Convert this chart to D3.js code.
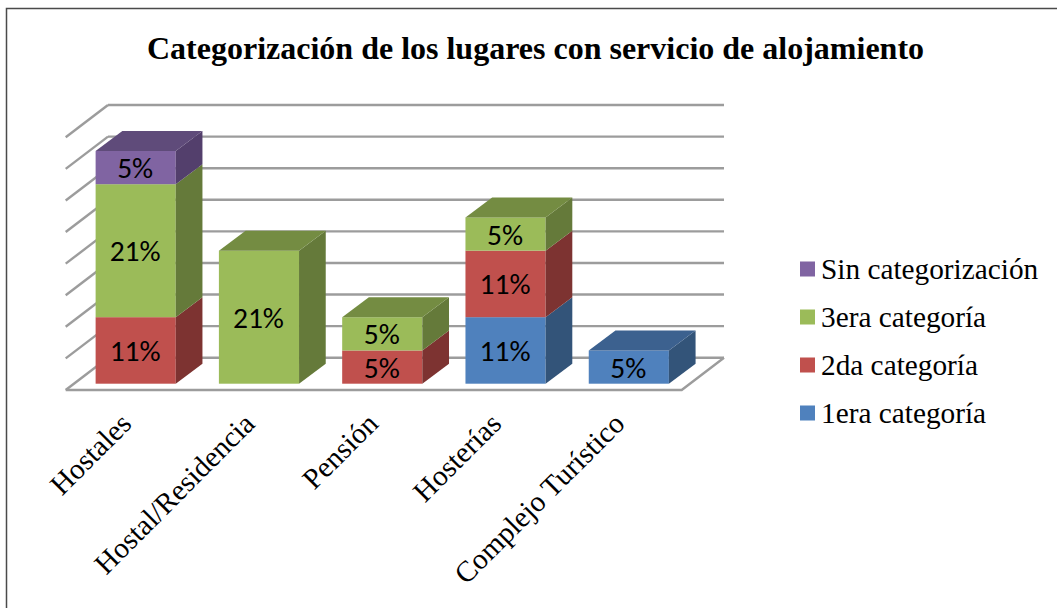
<!DOCTYPE html>
<html><head><meta charset="utf-8">
<style>html,body{margin:0;padding:0;background:#fff}svg{display:block}</style>
<script src="https://cdn.jsdelivr.net/npm/d3@7/dist/d3.min.js"></script>
</head><body><svg id="c" width="1057" height="608"></svg>
<script>
const titleText = "Categorización de los lugares con servicio de alojamiento";
const categories = ["Hostales","Hostal/Residencia","Pensión","Hosterías","Complejo Turístico"];
const seriesNames = ["1era categoría","2da categoría","3era categoría","Sin categorización"];
const primera = [0,0,0,10.53,5.26];
const segunda = [10.53,0,5.26,10.53,0];
const tercera = [21.05,21.05,5.26,5.26,0];
const sinCat = [5.26,0,0,0,0];
const axisTicks = [0,5,10,15,20,25,30,35,40];
const faceColors = ["#4F81BD","#C0504D","#9BBB59","#8064A2"];
const topColors = ["#3C618F","#91403D","#748C42","#5F4B7A"];
const sideColors = ["#335479","#7D3331","#657A3A","#533F6C"];

const svg = d3.select("#c");
const serif = "'Liberation Serif','Times New Roman',serif";
const dx = 26.7, dy = 20, wdx = 42.3, wdy = 32.3;
const y = d3.scaleLinear().domain([0,40]).range([383.7,131]);
const x = d3.scaleBand().domain(categories).range([72.5,692]).paddingInner(0.35).paddingOuter(0.1875);
const wallOff = 26;

svg.append("path").attr("d","M6.5,608V8.5H1057").attr("fill","none").attr("stroke","#4a4a4a").attr("stroke-width",1.5);

svg.append("text").text(titleText).attr("x",535.5).attr("y",59).attr("text-anchor","middle")
  .attr("font-family",serif).attr("font-weight","bold").attr("font-size",32).attr("fill","#000");

// walls and gridlines
const gridColor = "#9C9C9C";
const gy = v => y(v) - wallOff;
const g = svg.append("g").attr("fill","none").attr("stroke",gridColor).attr("stroke-width",2.4);
axisTicks.forEach(t=>{
  g.append("path").attr("d",`M${108},${gy(t)}H724`);
  g.append("path").attr("d",`M${108},${gy(t)}L${108-wdx},${gy(t)+wdy}`);
});
g.append("path").attr("d",`M${108-wdx},${gy(0)+wdy}H${724-wdx}L724,${gy(0)}`);

// bars
const columns = [primera,segunda,tercera,sinCat];
const stack = categories.map((c,i)=>{
  let acc = 0; const out = [];
  columns.forEach((col,s)=>{ if(col[i]>0){ out.push({c,s,v:col[i],y0:acc,y1:acc+col[i]}); acc+=col[i]; } });
  return out;
});
const barG = svg.append("g");
const fmt = v => Math.round(v) + "%";
stack.forEach((segs,i)=>{
  const x0 = x(categories[i]), x1 = x0 + x.bandwidth();
  segs.forEach((d,k)=>{
    const yb = y(d.y0), yt = y(d.y1);
    barG.append("rect").attr("x",x0).attr("y",yt).attr("width",x1-x0).attr("height",yb-yt).attr("fill",faceColors[d.s]);
    barG.append("path").attr("d",`M${x1},${yt}L${x1+dx},${yt-dy}V${yb-dy}L${x1},${yb}Z`).attr("fill",sideColors[d.s]);
    if(k===segs.length-1)
      barG.append("path").attr("d",`M${x0},${yt}L${x0+dx},${yt-dy}H${x1+dx}L${x1},${yt}Z`).attr("fill",topColors[d.s]);
  });
  segs.forEach(d=>{
    barG.append("text").text(fmt(d.v)).attr("x",(x0+x1)/2-0.5).attr("y",(y(d.y0)+y(d.y1))/2+10.5)
      .attr("text-anchor","middle").attr("font-family","Carlito,Lato,sans-serif").attr("font-size",29.5).attr("fill","#000");
  });
});

// category labels
categories.forEach(c=>{
  const px = x(c)+x.bandwidth()/2-17, py = 411;
  svg.append("text").text(c).attr("transform",`translate(${px},${py}) rotate(-45)`)
    .attr("text-anchor","end").attr("dy","0.7em").attr("font-family",serif).attr("font-size",29.2).attr("fill","#000");
});

// legend
const legendOrder = [3,2,1,0];
const ly = d3.scalePoint().domain(legendOrder).range([269,413]);
legendOrder.forEach(s=>{
  svg.append("rect").attr("x",800).attr("y",ly(s)-7.5).attr("width",15).attr("height",15).attr("fill",faceColors[s]);
  svg.append("text").text(seriesNames[s]).attr("x",821).attr("y",ly(s)+9.5)
    .attr("font-family",serif).attr("font-size",29.3).attr("fill","#000");
});
</script></body></html>
